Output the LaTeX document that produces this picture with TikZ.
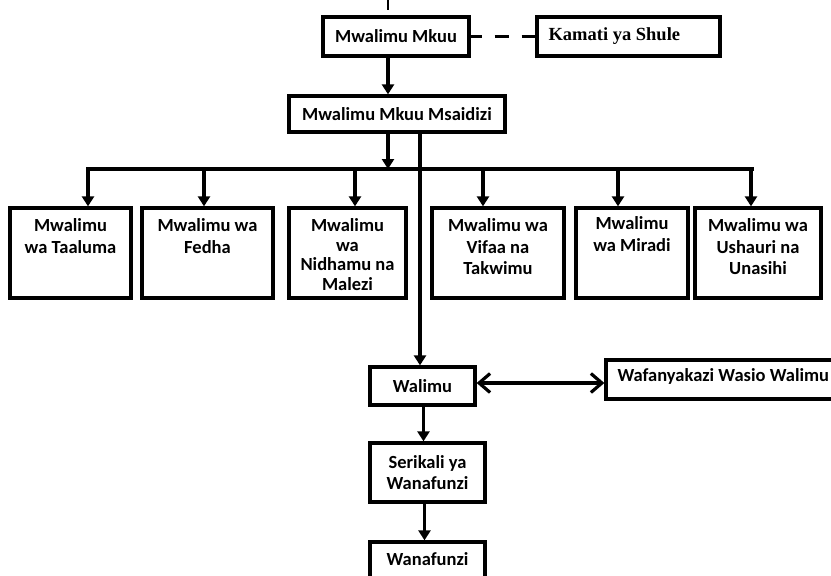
\documentclass[tikz,border=0pt]{standalone}
\usepackage{fontspec}
\setmainfont{Carlito}
\newfontfamily\serifb{Liberation Serif}
\usetikzlibrary{arrows.meta,calc}
\begin{document}
\begin{tikzpicture}[x=1pt,y=1pt,
  box/.style={draw,line width=3.3pt,inner sep=0pt,minimum height=#1},
  box/.default=39pt,
  txt/.style={font=\fontsize{18.5}{21.5}\selectfont\bfseries,align=center,inner sep=0pt},
  ln/.style={line width=3.2pt},
  arr/.style={line width=3.2pt,-{Triangle[length=10pt,width=12pt]}},
  darr/.style={line width=3.2pt,{Straight Barb[length=11pt,width=19pt,line width=3.2pt]}-{Straight Barb[length=11pt,width=19pt,line width=3.2pt]}}
]
\useasboundingbox (0,0) rectangle (831,-576);
% top row
\node[box,minimum width=146pt] (mkuu) at (396,-36.5) {};
\node[txt] at (mkuu.center) {Mwalimu Mkuu};
\node[box,minimum width=183pt] (kamati) at (628.5,-36.5) {};
\node[txt,font=\fontsize{18.5}{21.5}\selectfont\serifb\bfseries,anchor=west] at ([xshift=13pt]kamati.west) {Kamati ya Shule};
\node[box=36pt,minimum width=216pt] (msaidizi) at (397,-114) {};
\node[txt] at (msaidizi.center) {Mwalimu Mkuu Msaidizi};
\coordinate (topend) at (388,0);
\draw[line width=1.8pt] (topend) -- ([yshift=5pt]topend |- mkuu.north);
\draw[ln,dash pattern=on 14pt off 13pt,dash phase=3pt] (mkuu.east) -- (kamati.west);
\draw[arr] ([xshift=-8pt]mkuu.south) -- ([xshift=-8pt]mkuu.south |- msaidizi.north);
% branch
\coordinate (bar) at (388,-169);
\coordinate (jl) at (88,-169);
\coordinate (jr) at (752,-169);
\draw[arr] (bar |- msaidizi.south) -- (bar);
\draw[ln,line cap=rect] (jl) -- (jr);
% row boxes
\node[box=90pt,minimum width=121pt] (b1) at (70.5,-253) {};
\node[box=90pt,minimum width=131pt] (b2) at (207.5,-253) {};
\node[box=90pt,minimum width=117pt] (b3) at (347.5,-253) {};
\node[box=90pt,minimum width=132pt] (b4) at (498,-253) {};
\node[box=90pt,minimum width=112pt] (b5) at (632,-253) {};
\node[box=90pt,minimum width=126pt] (b6) at (758,-253) {};
\node[txt,anchor=north] at ([yshift=-12pt]b1.north) {Mwalimu\\wa Taaluma};
\node[txt,anchor=north] at ([yshift=-12pt]b2.north) {Mwalimu wa\\Fedha};
\node[txt,anchor=north,font=\fontsize{18.5}{19.5}\selectfont\bfseries] at ([yshift=-12pt]b3.north) {Mwalimu\\wa\\Nidhamu na\\Malezi};
\node[txt,anchor=north] at ([yshift=-12pt]b4.north) {Mwalimu wa\\Vifaa na\\Takwimu};
\node[txt,anchor=north] at ([yshift=-10pt]b5.north) {Mwalimu\\wa Miradi};
\node[txt,anchor=north] at ([yshift=-12pt]b6.north) {Mwalimu wa\\Ushauri na\\Unasihi};
\coordinate (j1) at (88,-169);
\coordinate (j2) at (204,-169);
\coordinate (j3) at (355,-169);
\coordinate (j4) at (483,-169);
\coordinate (j5) at (618,-169);
\coordinate (j6) at (751,-169);
\draw[arr] (j1) -- (j1 |- b1.north);
\draw[arr] (j2) -- (j2 |- b2.north);
\draw[arr] (j3) -- (j3 |- b3.north);
\draw[arr] (j4) -- (j4 |- b4.north);
\draw[arr] (j5) -- (j5 |- b5.north);
\draw[arr] (j6) -- (j6 |- b6.north);
% lower part
\node[box=38pt,minimum width=105pt] (walimu) at (422.5,-386) {};
\node[txt] at (walimu.center) {Walimu};
\node[box=39pt,minimum width=227pt] (wafanyakazi) at (719.5,-379.5) {};
\node[txt,anchor=west] at ([xshift=13pt,yshift=3pt]wafanyakazi.west) {Wafanyakazi Wasio Walimu};
\node[box=59pt,minimum width=115pt] (serikali) at (427.5,-472.5) {};
\node[txt] at (serikali.center) {Serikali ya\\Wanafunzi};
\node[box=48pt,minimum width=115pt] (wanafunzi) at (427.5,-566) {};
\node[txt,anchor=north] at ([yshift=-12pt]wanafunzi.north) {Wanafunzi};
\coordinate (vx) at (420,0);
\draw[arr] (vx |- msaidizi.south) -- (vx |- walimu.north);
\draw[darr] ([yshift=3pt]walimu.east) -- ([yshift=3pt]walimu.east -| wafanyakazi.west);
\draw[arr] ([xshift=1pt]walimu.south) -- ([xshift=1pt]walimu.south |- serikali.north);
\draw[arr] ([xshift=-3pt]serikali.south) -- ([xshift=-3pt]serikali.south |- wanafunzi.north);
\end{tikzpicture}
\end{document}
